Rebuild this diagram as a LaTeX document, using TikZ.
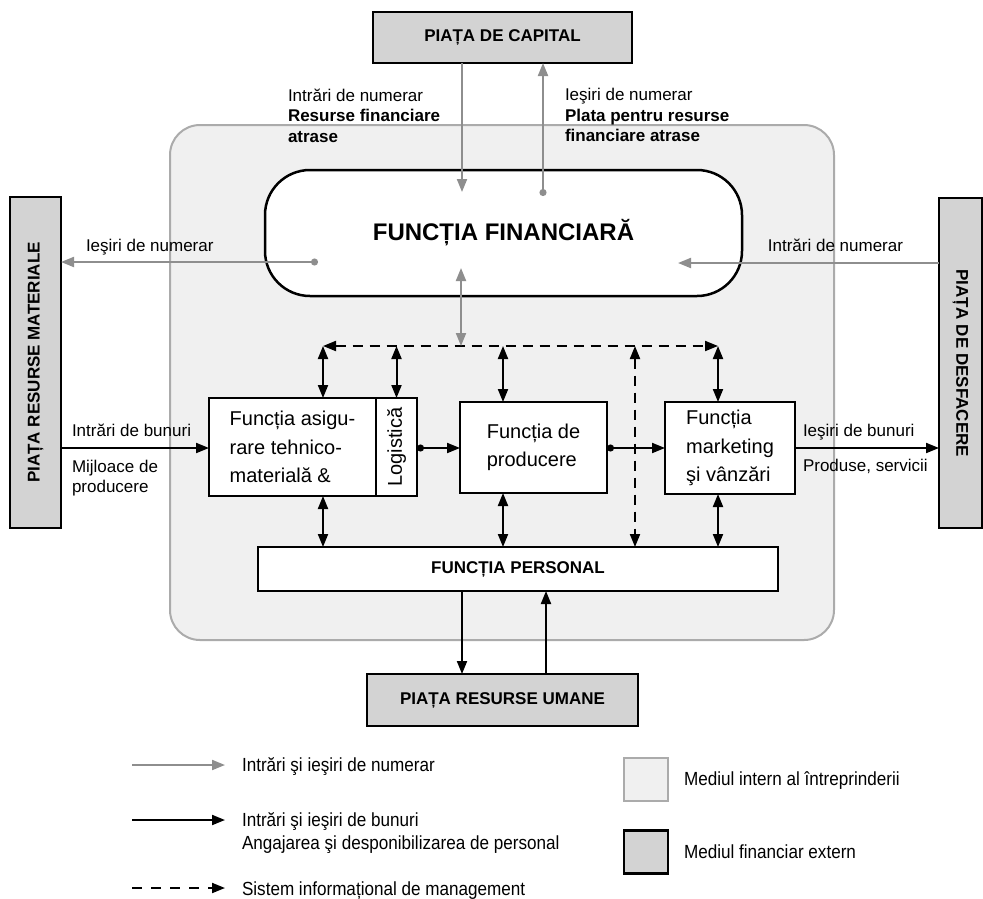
\documentclass[tikz,border=0pt]{standalone}
\usepackage{fontspec}
\setmainfont{Liberation Sans}
\newfontfamily\narrowsans[FakeStretch=0.9]{Liberation Sans}
\usetikzlibrary{arrows.meta}

\definecolor{extfill}{HTML}{D3D3D3}
\definecolor{intfill}{HTML}{F0F0F0}
\definecolor{intline}{HTML}{ABABAB}
\definecolor{cashgray}{HTML}{8E8E8E}

\newcommand\dgLabel{\fontsize{17}{20.5}\selectfont}
\newcommand\dgBox{\fontsize{20}{28.5}\selectfont}
\newcommand\dgMarket{\fontsize{17}{20}\selectfont\bfseries}
\newcommand\dgTitle{\fontsize{24}{28}\selectfont\bfseries}
\newcommand\dgLegend{\narrowsans\fontsize{19}{23}\selectfont}

\begin{document}
\begin{tikzpicture}[x=1pt,y=-1pt,
  >={Triangle[length=13pt,width=10pt]},
  extbox/.style={draw=black, line width=2.5pt, fill=extfill, inner sep=0pt, outer sep=0pt},
  funcbox/.style={draw=black, line width=2.5pt, fill=white, inner sep=0pt, outer sep=0pt, align=left, font=\dgBox},
  goods/.style={draw=black, line width=2pt},
  cash/.style={draw=cashgray, line width=2pt},
  info/.style={goods, dash pattern=on 10pt off 7pt},
  txt/.style={inner sep=0pt, outer sep=0pt, font=\dgLabel, align=left},
  legtxt/.style={inner sep=0pt, outer sep=0pt, font=\dgLegend, anchor=base west},
  dotarrow/.style={{Circle[length=7pt]}->},
]
\useasboundingbox (0,0) rectangle (983,898);

% internal environment of the enterprise
\node[draw=intline, line width=2pt, fill=intfill, rounded corners=30pt,
      minimum width=664, minimum height=515, inner sep=0pt] (intern) at (502,382.5) {};

% external markets
\node[extbox, minimum width=259, minimum height=51, font=\dgMarket] (cap) at (502.5,37.5) {PIAȚA DE CAPITAL};
\node[extbox, minimum width=51, minimum height=331] (pm) at (35.5,362.5) {};
\node[rotate=90, font=\dgMarket, inner sep=0pt] (pmt) at (pm.center) {PIAȚA RESURSE MATERIALE};
\node[extbox, minimum width=43, minimum height=330] (pd) at (960.5,363) {};
\node[rotate=-90, font=\dgMarket, inner sep=0pt] (pdt) at (pd.center) {PIAȚA DE DESFACERE};
\node[extbox, minimum width=271, minimum height=52, font=\dgMarket] (hr) at (502.5,700) {PIAȚA RESURSE UMANE};

% functions of the enterprise
\node[draw=black, line width=2.5pt, fill=white, rounded corners=45pt, minimum width=477,
      minimum height=126, inner sep=0pt, font=\dgTitle] (fin) at (503.5,233) {FUNCȚIA FINANCIARĂ};
\node[funcbox, minimum width=167, minimum height=98] (asig) at (292.5,447) {Funcția asigu-\\rare tehnico-\\materială \&};
\node[funcbox, minimum width=41, minimum height=98, anchor=west] (log) at (asig.east) {};
\node[rotate=90, font=\dgBox, inner sep=0pt] (logt) at (log.center) {Logistică};
\node[funcbox, minimum width=147, minimum height=91] (prod) at (533.5,447.5) {Funcția de\\producere};
\node[funcbox, minimum width=130, minimum height=92] (mkt) at (730,448) {Funcția\\marketing\\şi vânzări};
\node[funcbox, minimum width=520, minimum height=44, font=\dgMarket, align=center] (pers) at (518,569) {FUNCȚIA PERSONAL};

% helper coordinates
\coordinate (xin) at (462,192);
\coordinate (xout) at (543,196);
\coordinate (lout) at (318,262);
\coordinate (rin) at (678,263);
\coordinate (fi) at (461,268);
\coordinate (infoL) at (323,346);
\coordinate (infoR) at (718,346);
\coordinate (c3) at (503,346);
\coordinate (c4) at (635,346);
\coordinate (gy) at (0,448);
\coordinate (hdown) at (462,0);
\coordinate (hup) at (546,0);

% cash flows
\draw[cash,->] (cap.south -| xin) -- (xin);
\draw[cash,dotarrow] (xout) -- (xout |- cap.south);
\draw[cash,dotarrow] (lout) -- (lout -| pm.east);
\draw[cash,->] (rin -| pd.west) -- (rin);

% management information system
\draw[info,<->] (infoL) -- (infoR);
\draw[cash,<->] (fi) -- (fi |- infoL);
\draw[goods,<->] (infoL) -- (infoL |- asig.north);
\draw[goods,<->] (log.north |- infoL) -- (log.north);
\draw[goods,<->] (c3) -- (c3 |- prod.north);
\draw[goods,<->] (infoR) -- (infoR |- mkt.north);
\draw[info,<->] (c4) -- (c4 |- pers.north);
\draw[goods,<->] (infoL |- asig.south) -- (infoL |- pers.north);
\draw[goods,<->] (c3 |- prod.south) -- (c3 |- pers.north);
\draw[goods,<->] (infoR |- mkt.south) -- (infoR |- pers.north);

% flows of goods
\draw[goods,->] (pm.east |- gy) -- (asig.west |- gy);
\draw[goods,dotarrow] (log.east |- gy) -- (prod.west |- gy);
\draw[goods,dotarrow] (prod.east |- gy) -- (mkt.west |- gy);
\draw[goods,->] (mkt.east |- gy) -- (pd.west |- gy);

% personnel
\draw[goods,->] (hdown |- pers.south) -- (hdown |- hr.north);
\draw[goods,->] (hup |- hr.north) -- (hup |- pers.south);

% flow labels
\node[txt, anchor=north west] (tl) at (288,88.5) {Intrări de numerar\\\textbf{Resurse financiare}\\\textbf{atrase}};
\node[txt, anchor=north west] (tr) at (565,88.5) {Ieşiri de numerar\\\textbf{Plata pentru resurse}\\\textbf{financiare atrase}};
\node[txt, anchor=base west] (ll) at (86,251) {Ieşiri de numerar};
\node[txt, anchor=base east] (rl) at (903,251) {Intrări de numerar};
\node[txt, anchor=base west] (gin) at (72,436) {Intrări de bunuri};
\node[txt, anchor=north west, font=\fontsize{17}{20}\selectfont] (gin2) at (72,460) {Mijloace de\\producere};
\node[txt, anchor=base west] (gout) at (803,436) {Ieşiri de bunuri};
\node[txt, anchor=base west] (gout2) at (803,471) {Produse, servicii};

% legend
\coordinate (k1) at (132,765);
\coordinate (k1e) at (225,765);
\coordinate (k2) at (132,820);
\coordinate (k2e) at (225,820);
\coordinate (k3) at (132,888);
\coordinate (k3e) at (225,888);
\draw[cash,->] (k1) -- (k1e);
\draw[goods,->] (k2) -- (k2e);
\draw[goods, dash pattern=on 10pt off 9pt,->] (k3) -- (k3e);
\node[legtxt] (kt1) at (242,771) {Intrări şi ieşiri de numerar};
\node[legtxt] (kt2) at (242,826) {Intrări şi ieşiri de bunuri};
\node[legtxt] (kt2b) at (242,849) {Angajarea şi desponibilizarea de personal};
\node[legtxt] (kt3) at (242,895) {Sistem informațional de management};

\node[draw=intline, line width=2pt, fill=intfill, minimum width=44, minimum height=43, inner sep=0pt] (kb1) at (646,779.5) {};
\node[extbox, minimum width=44, minimum height=43] (kb2) at (646,852) {};
\node[legtxt] (kb1t) at (684,785) {Mediul intern al întreprinderii};
\node[legtxt] (kb2t) at (684,858) {Mediul financiar extern};
\end{tikzpicture}
\end{document}
